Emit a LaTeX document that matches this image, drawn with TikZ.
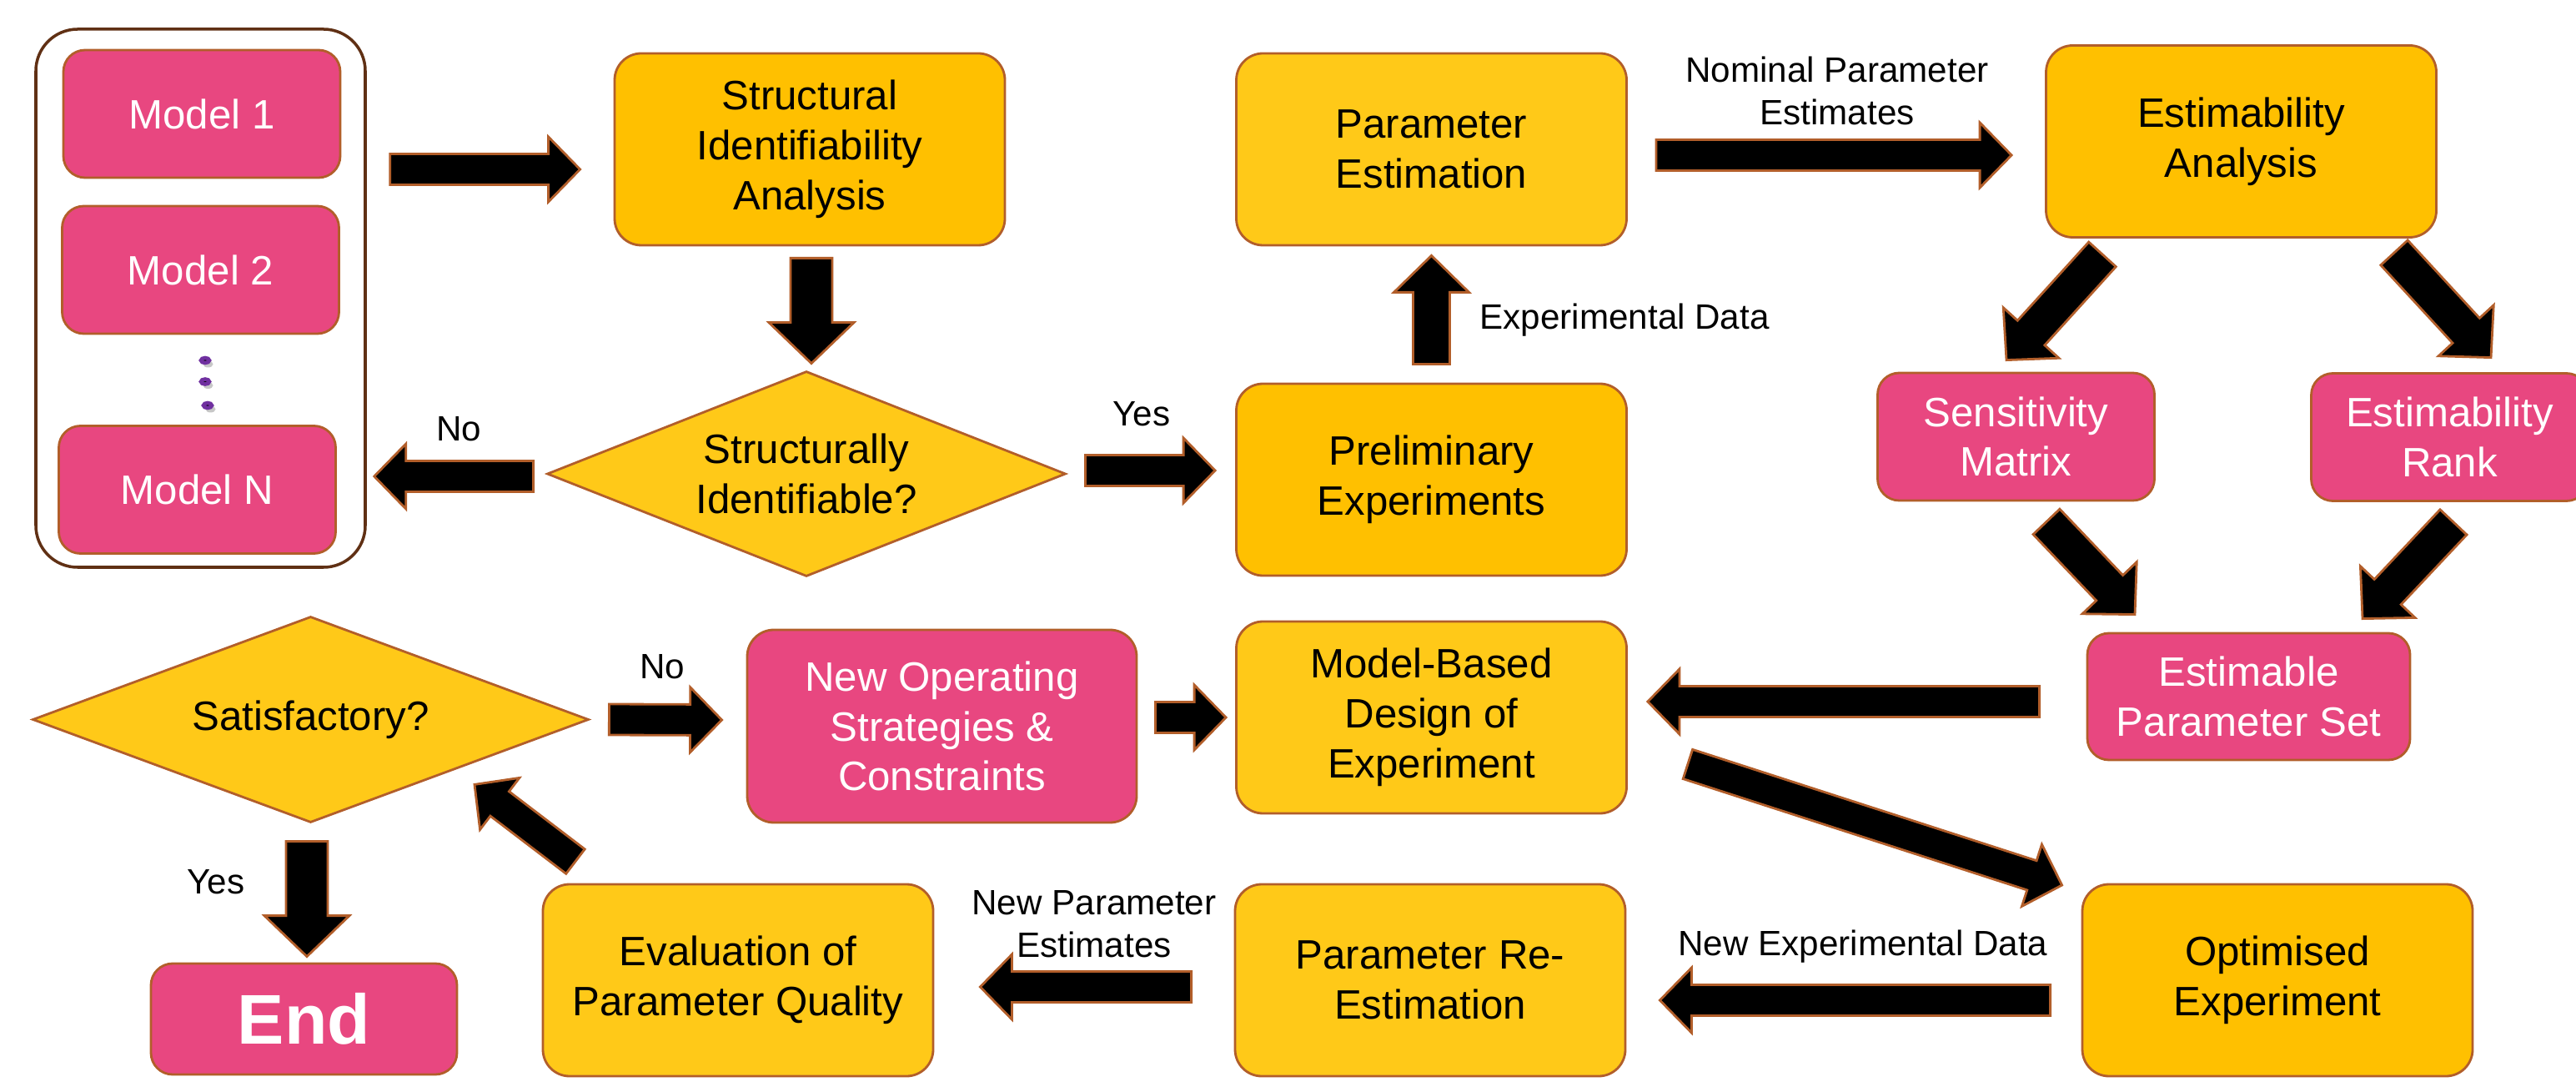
\documentclass[tikz,border=0pt]{standalone}
\usepackage{fontspec}
\setmainfont{Liberation Sans}
\definecolor{PinkBox}{RGB}{232, 71, 128}
\definecolor{AmberBox}{RGB}{255, 192, 0}
\definecolor{YellowBox}{RGB}{255, 201, 24}
\definecolor{EdgeBrown}{RGB}{178, 94, 42}
\definecolor{FrameBrown}{RGB}{96, 48, 20}
\definecolor{DotPurple}{RGB}{112, 48, 160}
\usetikzlibrary{shapes.geometric, calc, positioning}

\tikzset{shaft half/.store in=\shafthalf, head half/.store in=\headhalf, head len/.store in=\headlen,
  shaft half=0.185cm, head half=0.39cm, head len=0.38cm,
  mid arrow/.style={shaft half=0.22cm, head half=0.45cm, head len=0.44cm},
  wide arrow/.style={shaft half=0.25cm, head half=0.51cm, head len=0.49cm}}

\newcommand{\blockarrow}[3][]{%
  \begin{scope}[#1]
    \coordinate (ba-a) at ($#2$);
    \coordinate (ba-b) at ($#3$);
    \coordinate (ba-q) at ($(ba-b)!\headlen!(ba-a)$);
    \path [bigarrow] ($(ba-a)!\shafthalf!90:(ba-b)$) -- ($(ba-q)!\shafthalf!-90:(ba-a)$)
      -- ($(ba-q)!\headhalf!-90:(ba-a)$) -- (ba-b) -- ($(ba-q)!\headhalf!90:(ba-a)$)
      -- ($(ba-q)!\shafthalf!90:(ba-a)$) -- ($(ba-a)!\shafthalf!-90:(ba-b)$) -- cycle;
  \end{scope}}

\begin{document}
\begin{tikzpicture}
        \tikzstyle{box} = [rectangle, draw=EdgeBrown, line width=0.8pt, rounded corners=0.32cm,
            align=center, inner sep=0pt, minimum width=4.68cm, minimum height=2.30cm,
            font=\fontsize{14pt}{17pt}\selectfont]
        \tikzstyle{amberbox} = [box, fill=AmberBox]
        \tikzstyle{yellowbox} = [box, fill=YellowBox]
        \tikzstyle{pinkbox} = [box, fill=PinkBox, text=white, rounded corners=0.26cm,
            minimum width=3.32cm, minimum height=1.53cm]
        \tikzstyle{decision} = [diamond, aspect=2.5, draw=EdgeBrown, line width=0.8pt, fill=YellowBox,
            align=center, inner sep=0pt, font=\fontsize{14pt}{17pt}\selectfont]
        \tikzstyle{lbl} = [align=center, inner sep=0pt, font=\fontsize{12pt}{14.5pt}\selectfont]
        \tikzstyle{bigarrow} = [draw=EdgeBrown, fill=black, line width=0.8pt, line join=miter]

        \useasboundingbox (0,0) rectangle (30.89,-12.97);

        \node [rectangle, draw=FrameBrown, line width=1pt, fill=white, rounded corners=0.5cm,
            minimum width=3.95cm, minimum height=6.45cm] (models) at (2.405,-3.575) {};
        \node [pinkbox] (model1) at (2.42,-1.365) {Model 1};
        \node [pinkbox] (model2) at (2.405,-3.235) {Model 2};
        \node [pinkbox] (modelN) at (2.365,-5.87) {Model N};
        \foreach \y/\x in {-4.32/2.46, -4.575/2.46, -4.86/2.49} {
            \fill [black!22] (\x+0.035,\y-0.045) ellipse [x radius=0.06, y radius=0.04];
            \filldraw [fill=black, draw=DotPurple, line width=1.3pt] (\x,\y) ellipse [x radius=0.05, y radius=0.03];
        }

        \node [amberbox] (struct) at (9.71,-1.79) {Structural\\Identifiability\\Analysis};
        \node [decision, minimum width=6.22cm, minimum height=2.46cm] (sident) at (9.67,-5.68)
            {Structurally\\Identifiable?};
        \node [yellowbox] (paramest) at (17.165,-1.79) {Parameter\\Estimation};
        \node [amberbox] (prelim) at (17.165,-5.75) {Preliminary\\Experiments};
        \node [amberbox] (estan) at (26.875,-1.695) {Estimability\\Analysis};
        \node [pinkbox] (sens) at (24.175,-5.235) {Sensitivity\\Matrix};
        \node [pinkbox] (rank) at (29.375,-5.24) {Estimability\\Rank};
        \node [pinkbox, minimum width=3.87cm, minimum height=1.52cm] (eps) at (26.965,-8.35)
            {Estimable\\Parameter Set};
        \node [yellowbox] (mbdoe) at (17.165,-8.6) {Model-Based\\Design of\\Experiment};
        \node [pinkbox, minimum width=4.67cm, minimum height=2.31cm, rounded corners=0.32cm] (newop)
            at (11.295,-8.705) {New Operating\\Strategies \&\\Constraints};
        \node [decision, minimum width=6.67cm, minimum height=2.47cm] (satis) at (3.725,-8.625)
            {Satisfactory?};
        \node [amberbox] (optim) at (27.31,-11.75) {Optimised\\Experiment};
        \node [yellowbox] (reest) at (17.15,-11.75) {Parameter Re-\\Estimation};
        \node [yellowbox] (evalq) at (8.85,-11.75) {Evaluation of\\Parameter Quality};
        \node [pinkbox, minimum width=3.67cm, minimum height=1.33cm,
            font=\fontsize{24pt}{28pt}\selectfont\bfseries] (endnode) at (3.645,-12.215) {End};

        \blockarrow{(models.east)+(0.28,1.545)}{(struct.west)+(-0.40,-0.24)}
        \blockarrow[wide arrow]{(struct.south)+(0.02,-0.14)}{(sident.north)+(0.06,0.08)}
        \blockarrow{(sident.west)+(-0.15,-0.03)}{(models.east)+(0.09,-2.135)}
        \blockarrow{(sident.east)+(0.22,0.04)}{(prelim.west)+(-0.24,0.11)}
        \blockarrow[mid arrow]{(prelim.north)+(0,0.22)}{(paramest.south)+(0,-0.11)}
        \blockarrow{(paramest.east)+(0.34,-0.07)}{(estan.west)+(-0.40,-0.165)}
        \blockarrow[mid arrow]{(estan.south)+(-1.665,-0.19)}{(sens.north)+(-0.115,0.14)}
        \blockarrow[mid arrow]{(estan.south)+(1.835,-0.17)}{(rank.north)+(0.495,0.175)}
        \blockarrow[mid arrow]{(sens.south)+(0.365,-0.24)}{(eps.north)+(-1.365,0.21)}
        \blockarrow[mid arrow]{(rank.south)+(0.045,-0.24)}{(eps.north)+(1.365,0.16)}
        \blockarrow{(eps.west)+(-0.56,-0.06)}{(mbdoe.east)+(0.24,0.19)}
        \blockarrow{(mbdoe.east)+(0.72,-0.56)}{(optim.west)+(-0.23,1.14)}
        \blockarrow{(optim.west)+(-0.37,-0.24)}{(reest.east)+(0.40,-0.24)}
        \blockarrow{(reest.west)+(-0.51,-0.08)}{(evalq.east)+(0.55,-0.08)}
        \blockarrow{(evalq.north)+(-1.95,0.26)}{(satis.south)+(1.965,0.47)}
        \blockarrow[wide arrow]{(satis.south)+(-0.045,-0.21)}{(endnode.north)+(0.035,0.07)}
        \blockarrow{(newop.east)+(0.21,0.105)}{(mbdoe.west)+(-0.11,0)}
        \blockarrow{(satis.east)+(0.23,0)}{(newop.west)+(-0.29,0.075)}

        \node [lbl] (no1) at (5.50,-5.14) {No};
        \node [lbl] (yes1) at (13.69,-4.96) {Yes};
        \node [lbl, anchor=west] (expdata) at (17.74,-3.84) {Experimental Data};
        \node [lbl] (nominal) at (22.03,-1.085) {Nominal Parameter\\Estimates};
        \node [lbl] (no2) at (7.94,-7.99) {No};
        \node [lbl] (yes2) at (2.59,-10.57) {Yes};
        \node [lbl] (newpar) at (13.12,-11.075) {New Parameter\\Estimates};
        \node [lbl] (newexp) at (22.34,-11.35) {New Experimental Data};
    \end{tikzpicture}
\end{document}
